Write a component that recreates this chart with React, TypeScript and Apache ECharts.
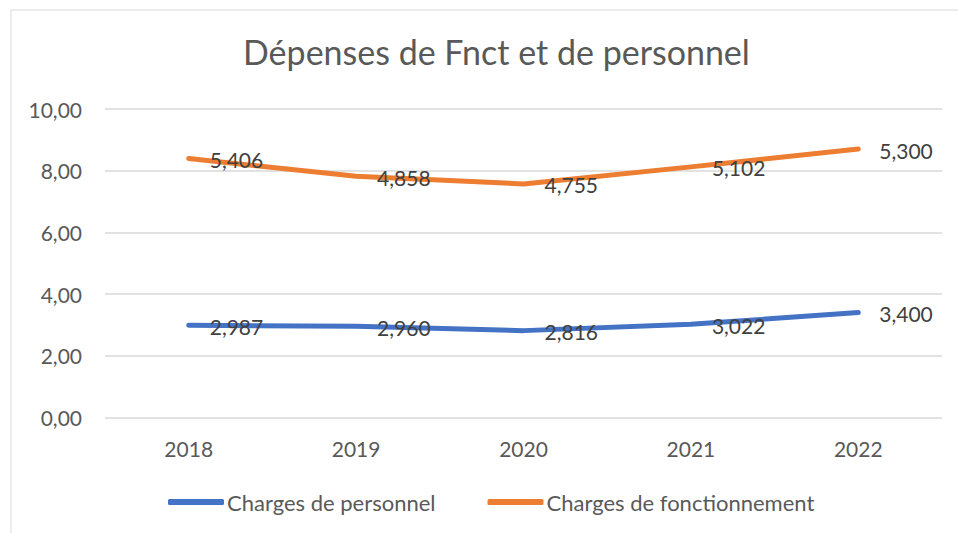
import React, { useEffect, useRef } from "react";
import * as echarts from "echarts";

const categories = ["2018", "2019", "2020", "2021", "2022"];
const personnel = [2.987, 2.96, 2.816, 3.022, 3.4];
const fonctionnement = [5.406, 4.858, 4.755, 5.102, 5.3];
const yTicks = { min: 0, max: 10, interval: 2 };

const FONT = "Lato, 'Open Sans', sans-serif";
const GREY = "#595959";

export default function App() {
  const ref = useRef<HTMLDivElement>(null);
  useEffect(() => {
    if (!ref.current) return;
    const chart = echarts.init(ref.current, null, { renderer: "svg" });
    const label = {
      show: true,
      position: "right",
      distance: 21,
      color: "#404040",
      fontFamily: FONT,
      fontSize: 21,
      offset: [0, 1],
      formatter: (p: any) => Number(p.value).toFixed(3).replace(".", ","),
    };
    chart.setOption({
      animation: false,
      backgroundColor: "#fff",
      graphic: [
        {
          type: "rect",
          shape: { x: 11, y: 10, width: 1000, height: 600 },
          style: { fill: "none", stroke: "#d9d9d9", lineWidth: 1 },
          silent: true,
        },
      ],
      title: {
        text: "Dépenses de Fnct et de personnel",
        left: 238,
        top: 29,
        textStyle: { fontFamily: FONT, fontSize: 34, fontWeight: "normal", color: GREY },
      },
      legend: {
        left: 163,
        top: 486,
        itemWidth: 56,
        itemHeight: 6,
        itemGap: 52,
        icon: "roundRect",
        textStyle: { fontFamily: FONT, fontSize: 22, color: GREY, padding: [0, 0, 0, -2] },
        data: ["Charges de personnel", "Charges de fonctionnement"],
      },
      grid: { left: 105, right: 16, top: 109, bottom: 533 - 417.5 },
      xAxis: {
        type: "category",
        data: categories,
        boundaryGap: true,
        axisLine: { show: false },
        axisTick: { show: false },
        axisLabel: { fontFamily: FONT, fontSize: 21, color: GREY, margin: 20 },
      },
      yAxis: {
        type: "value",
        min: yTicks.min,
        max: yTicks.max,
        interval: yTicks.interval,
        axisLine: { show: false },
        axisTick: { show: false },
        splitLine: { lineStyle: { color: "#d9d9d9", width: 1.5 } },
        axisLabel: {
          fontFamily: FONT,
          fontSize: 21,
          color: GREY,
          margin: 23,
          formatter: (v: number) => v.toFixed(2).replace(".", ","),
        },
      },
      series: [
        {
          name: "Charges de personnel",
          type: "line",
          stack: "total",
          data: personnel,
          symbol: "circle",
          symbolSize: 0.01,
          showSymbol: true,
          itemStyle: { color: "#4472C4" },
          lineStyle: { color: "#4472C4", width: 5, cap: "round", join: "round" },
          label,
        },
        {
          name: "Charges de fonctionnement",
          type: "line",
          stack: "total",
          data: fonctionnement,
          symbol: "circle",
          symbolSize: 0.01,
          showSymbol: true,
          itemStyle: { color: "#ED7D31" },
          lineStyle: { color: "#ED7D31", width: 5, cap: "round", join: "round" },
          label,
        },
      ],
    });
    return () => chart.dispose();
  }, []);
  return (
    <div
      ref={ref}
      style={{ position: "fixed", left: 0, top: 0, width: 958, height: 533 }}
    />
  );
}
